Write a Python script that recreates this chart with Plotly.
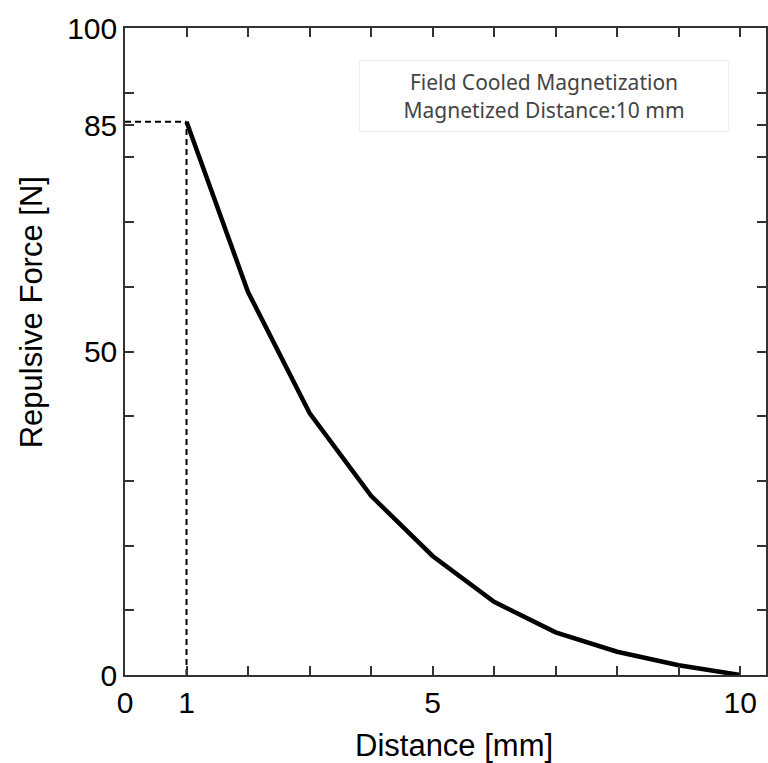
import plotly.graph_objects as go

distance = [1, 2, 3, 4, 5, 6, 7, 8, 9, 10]
force = [85.5, 59.2, 40.5, 27.7, 18.4, 11.3, 6.6, 3.6, 1.5, 0.0]

guide_h_x = [0, 1]
guide_h_y = [85.5, 85.5]
guide_v_x = [1, 1]
guide_v_y = [0, 85.5]

x_tickvals = [0, 1, 2, 3, 4, 5, 6, 7, 8, 9, 10]
x_ticktext = ["0", "1", "", "", "", "5", "", "", "", "", "10"]
y_tickvals = [0, 10, 20, 30, 40, 50, 60, 70, 80, 90, 100, 85]
y_ticktext = ["0", "", "", "", "", "50", "", "", "", "", "100", "85"]

W, H = 768, 763
ML, MR, MT, MB = 125, 0, 28, 88
PW, PH = W - ML - MR, H - MT - MB

def px_x(p):
    return (p - ML) / PW

def px_y(p):
    return (H - MB - p) / PH

fig = go.Figure()
fig.add_trace(go.Scatter(x=guide_h_x, y=guide_h_y, mode="lines",
                         line=dict(color="black", width=2, dash="6px,4px"), showlegend=False))
fig.add_trace(go.Scatter(x=guide_v_x, y=guide_v_y, mode="lines",
                         line=dict(color="black", width=2, dash="6px,4px"), showlegend=False))
fig.add_trace(go.Scatter(x=distance, y=force, mode="lines",
                         line=dict(color="black", width=4.5), showlegend=False))

fig.add_annotation(xref="paper", yref="paper", x=px_x(545), y=px_y(96),
                   xanchor="center", yanchor="middle", showarrow=False,
                   text="Field Cooled Magnetization<br>Magnetized Distance:10 mm",
                   font=dict(family="Noto Sans", size=21, color="#444"),
                   width=366, height=68,
                   bordercolor="#efefef", borderwidth=1, borderpad=1, bgcolor="white")

title_font = dict(family="Liberation Sans", size=31, color="black")
fig.add_annotation(xref="paper", yref="paper", x=px_x(455), y=px_y(745),
                   xanchor="center", yanchor="middle", showarrow=False,
                   text="Distance [mm]", font=title_font)
fig.add_annotation(xref="paper", yref="paper", x=px_x(31), y=px_y(312),
                   xanchor="center", yanchor="middle", showarrow=False, textangle=-90,
                   text="Repulsive Force [N]", font=title_font)

axis_common = dict(showline=True, linecolor="#333", linewidth=1.5, mirror="ticks",
                   ticks="inside", ticklen=9, tickwidth=1.5, tickcolor="#333",
                   showgrid=False, zeroline=False,
                   tickfont=dict(family="Liberation Sans", size=30, color="black"))

fig.update_xaxes(range=[0, 10.42], tickvals=x_tickvals, ticktext=x_ticktext, **axis_common)
fig.update_yaxes(range=[0, 100], tickvals=y_tickvals, ticktext=y_ticktext, **axis_common)

fig.update_layout(width=W, height=H, margin=dict(l=ML, r=MR, t=MT, b=MB),
                  plot_bgcolor="white", paper_bgcolor="white")

fig.write_html("out.html")
